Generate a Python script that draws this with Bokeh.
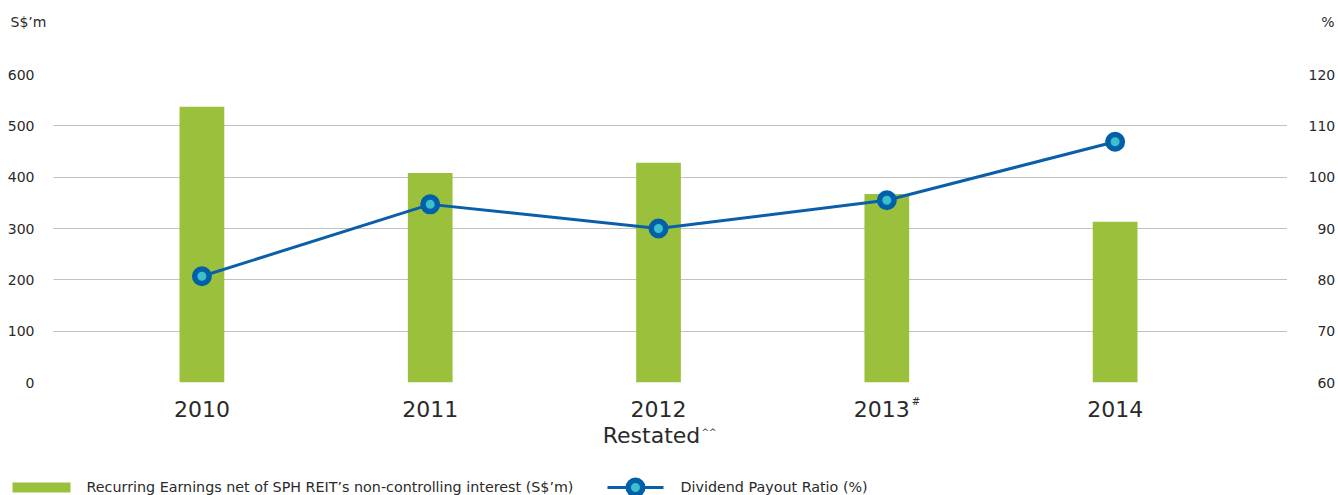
from bokeh.plotting import figure
from bokeh.models import Range1d, LinearAxis, FixedTicker
from bokeh.layouts import column
from bokeh.embed import file_html
from bokeh.resources import INLINE
from bokeh.core.properties import value

# ---- data ----
years = [2010, 2011, 2012, 2013, 2014]
year_labels = ["2010", "2011", "2012", "2013", "2014"]
year_sublabels = ["", "", "Restated", "", ""]
year_marks = ["", "", "", "#", ""]          # superscript after the year
sub_marks = ["", "", "^^", "", ""]           # superscript after the sub-label
earnings = [537, 408, 428, 367, 313]          # S$'m
payout = [80.7, 94.7, 90.0, 95.5, 106.9]      # %
left_ticks = [0, 100, 200, 300, 400, 500, 600]
right_ticks = [60, 70, 80, 90, 100, 110, 120]
left_unit = "S$\u2019m"
right_unit = "%"
legend_labels = ["Recurring Earnings net of SPH REIT\u2019s non-controlling interest (S$\u2019m)",
                 "Dividend Payout Ratio (%)"]

# ---- style ----
FONT = "DejaVu Sans"
TXT = "#2a2a2a"
GREEN = "#9BC13C"
BLUE = "#0A5FAA"
RING = "#0060A9"
TEAL = "#3DC0CB"
W = 1338
X0, X1 = 2009.35, 2014.755
BL, BR = 53, 45          # left / right borders around the plotting frame


def strip(h, **kw):
    f = figure(width=W, height=h, output_backend="svg", toolbar_location=None, tools="",
               x_axis_location=None, y_axis_location=None, **kw)
    f.grid.visible = False
    f.outline_line_color = None
    return f


# ---- header strip (unit captions) ----
HH = 44
hd = strip(HH, x_range=Range1d(0, W), y_range=Range1d(HH, 0), min_border=0, frame_align=False)
hd.text(x=[10], y=[21.5], text=[left_unit], text_font=value(FONT), text_font_size="14px",
        text_color=TXT, text_baseline="alphabetic", text_align="left")
hd.text(x=[1334], y=[21.5], text=[right_unit], text_font=value(FONT), text_font_size="14px",
        text_color=TXT, text_baseline="alphabetic", text_align="right")

# ---- main chart ----
MH = 348
p = figure(width=W, height=MH, output_backend="svg", toolbar_location=None, tools="",
           x_range=Range1d(X0, X1), y_range=Range1d(0, 600), x_axis_location=None,
           min_border_left=BL, min_border_right=BR, min_border_top=30, min_border_bottom=10)
p.outline_line_color = None
p.xgrid.visible = False
p.ygrid.ticker = FixedTicker(ticks=left_ticks)
p.ygrid.grid_line_color = "#858585"
p.ygrid.grid_line_dash = "1 1"
p.ygrid.grid_line_width = 1

p.extra_y_ranges = {"pct": Range1d(60, 120)}

p.vbar(x=years, top=earnings, width=0.196, bottom=0, fill_color=GREEN, line_color=None)
p.line(years, payout, y_range_name="pct", line_width=3, line_color=BLUE)
p.scatter(years, payout, y_range_name="pct", size=14.5, fill_color=TEAL,
          line_color=RING, line_width=5.5)

ya = p.yaxis[0]
ya.ticker = FixedTicker(ticks=left_ticks)
ya.axis_line_color = None
ya.major_tick_line_color = None
ya.minor_tick_line_color = None
ya.major_label_standoff = 13
ya.major_label_text_font = FONT
ya.major_label_text_font_size = "14px"
ya.major_label_text_color = TXT

ra = LinearAxis(y_range_name="pct", ticker=FixedTicker(ticks=right_ticks))
ra.major_label_overrides = {t: ("\u2007" * (3 - len(str(t))) + str(t)) for t in right_ticks}
ra.axis_line_color = None
ra.major_tick_line_color = None
ra.minor_tick_line_color = None
ra.major_label_standoff = 15
ra.major_label_text_font = FONT
ra.major_label_text_font_size = "14px"
ra.major_label_text_color = TXT
p.add_layout(ra, "right")

# ---- category labels strip (shares the chart's x scale) ----
LH = 60
cl = strip(LH, x_range=p.x_range, y_range=Range1d(LH, 0),
           min_border_left=BL, min_border_right=BR, min_border_top=0, min_border_bottom=0)
n = len(years)
year_shift = [-5 if m else 0 for m in year_marks]      # centre label + superscript together
sub_shift = [-7 if m else 0 for m in sub_marks]
cl.text(x=years, y=[16] * n, text=year_labels, x_offset=year_shift, text_font=value(FONT),
        text_font_size="22px", text_color=TXT, text_baseline="alphabetic", text_align="center")
cl.text(x=years, y=[43] * n, text=year_sublabels, x_offset=sub_shift, text_font=value(FONT),
        text_font_size="22px", text_color=TXT, text_baseline="alphabetic", text_align="center")
cl.text(x=years, y=[3.5] * n, text=year_marks, x_offset=25, text_font=value(FONT),
        text_font_size="10px", text_color=TXT, text_baseline="top", text_align="left")
cl.text(x=years, y=[34] * n, text=sub_marks, x_offset=43, text_font=value(FONT),
        text_font_size="9px", text_color=TXT, text_baseline="top", text_align="left")

# ---- legend strip ----
GH = 495 - HH - MH - LH
lg = strip(GH, x_range=Range1d(0, W), y_range=Range1d(GH, 0), min_border=0, frame_align=False)
cy = 35
lg.rect(x=[41], y=[cy], width=58, height=10, fill_color=GREEN, line_color=None)
lg.text(x=[86], y=[cy - 0.5], text=[legend_labels[0]], text_font=value(FONT),
        text_font_size="14.3px", text_color=TXT, text_baseline="alphabetic")
lg.line(x=[607, 663], y=[cy, cy], line_width=3, line_color=BLUE)
lg.scatter(x=[635], y=[cy], size=14.5, fill_color=TEAL, line_color=RING, line_width=5.5)
lg.text(x=[680], y=[cy - 0.5], text=[legend_labels[1]], text_font=value(FONT),
        text_font_size="14.3px", text_color=TXT, text_baseline="alphabetic")

layout = column(hd, p, cl, lg, spacing=0)
open("out.html", "w").write(file_html(layout, INLINE))
